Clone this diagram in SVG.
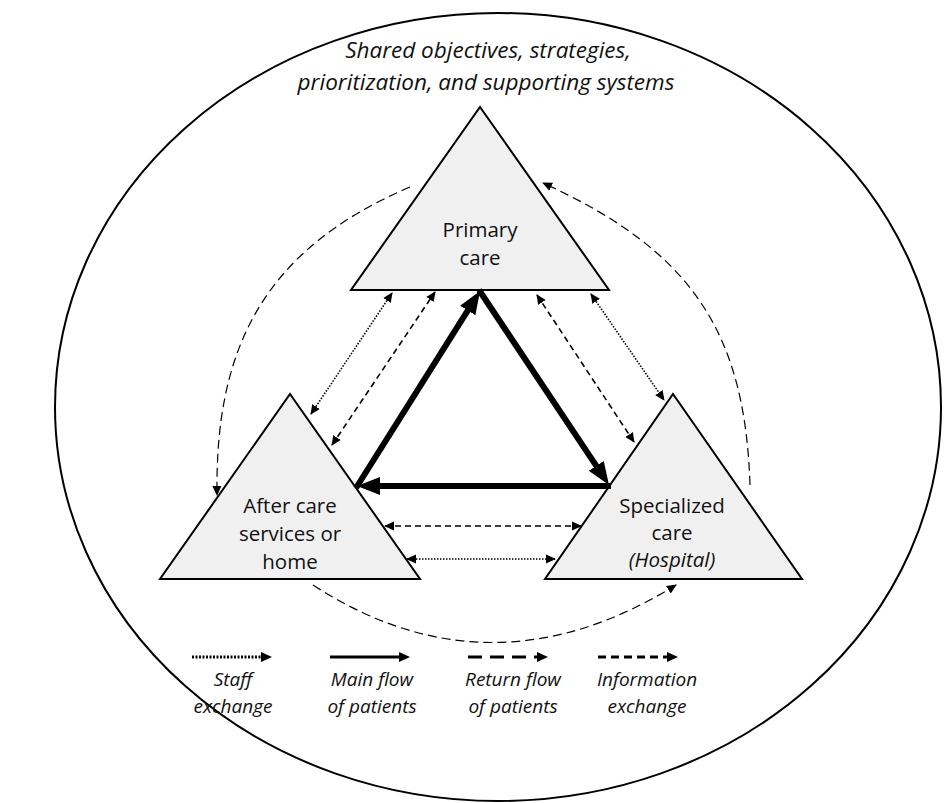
<svg xmlns="http://www.w3.org/2000/svg" width="948" height="803" viewBox="0 0 948 803">
  <style>
    .bg { fill: #ffffff; }
    .frame { fill: none; stroke: #000; stroke-width: 2; }
    .tri { fill: #f0f0f0; stroke: #000; stroke-width: 2; stroke-linejoin: miter; }
    .label { font-family: "Open Sans", Lato, "Liberation Sans", sans-serif; font-size: 20.5px; fill: #111; text-anchor: middle; }
    .leg { font-size: 19px; font-style: italic; }
    .ital { font-style: italic; }
    .title { font-family: "Open Sans", Lato, "Liberation Sans", sans-serif; font-size: 22.5px; font-style: italic; fill: #111; text-anchor: middle; }
    .main { fill: none; stroke: #000; stroke-width: 6; }
    .staff { fill: none; stroke: #000; stroke-width: 1.6; stroke-dasharray: 1.5 1.5; }
    .info { fill: none; stroke: #000; stroke-width: 1.6; stroke-dasharray: 6 4; }
    .curve { fill: none; stroke: #000; stroke-width: 1.2; stroke-dasharray: 9 5; }
  </style>
  <defs>
    <marker id="head" markerUnits="userSpaceOnUse" viewBox="0 -5 10 10" markerWidth="10" markerHeight="10" refX="9" refY="0" orient="auto-start-reverse">
      <path d="M0,-4.5 L10,0 L0,4.5 z" fill="#000"/>
    </marker>
    <marker id="bigHead" markerUnits="userSpaceOnUse" viewBox="0 -10 24 20" markerWidth="24" markerHeight="20" refX="1" refY="0" orient="auto">
      <path d="M0,-9 L23,0 L0,9 z" fill="#000"/>
    </marker>
    <marker id="legHead" markerUnits="userSpaceOnUse" viewBox="0 -6 12 12" markerWidth="12" markerHeight="12" refX="1" refY="0" orient="auto">
      <path d="M0,-5 L11,0 L0,5 z" fill="#000"/>
    </marker>
  </defs>

  <rect class="bg" x="0" y="0" width="948" height="803"/>

  <!-- Enclosing ellipse with shared objectives -->
  <g id="frame">
    <ellipse class="frame" cx="498" cy="407" rx="443" ry="394"/>
    <text class="title" x="488" y="58">Shared objectives, strategies,</text>
    <text class="title" x="486" y="90">prioritization, and supporting systems</text>
  </g>

  <!-- Nodes -->
  <g id="primary-care">
    <polygon class="tri" points="480,107 609,290 351,290"/>
    <text class="label" x="480" y="237">Primary</text>
    <text class="label" x="480" y="265">care</text>
  </g>
  <g id="after-care">
    <polygon class="tri" points="290,394 420,579 160,579"/>
    <text class="label" x="290" y="513">After care</text>
    <text class="label" x="290" y="541">services or</text>
    <text class="label" x="290" y="569">home</text>
  </g>
  <g id="specialized-care">
    <polygon class="tri" points="673,394 802,579 545,579"/>
    <text class="label" x="672" y="513">Specialized</text>
    <text class="label" x="672" y="540">care</text>
    <text class="label ital" x="672" y="567">(Hospital)</text>
  </g>

  <!-- Connectors -->
  <g id="connectors">
    <!-- main flow of patients -->
    <line class="main" x1="356" y1="488" x2="468.3" y2="309.6" marker-end="url(#bigHead)"/>
    <line class="main" x1="479" y1="290" x2="596.8" y2="466.7" marker-end="url(#bigHead)"/>
    <line class="main" x1="611" y1="486" x2="379" y2="486" marker-end="url(#bigHead)"/>

    <!-- staff exchange -->
    <line class="staff" x1="311" y1="414" x2="392" y2="293" marker-start="url(#head)" marker-end="url(#head)"/>
    <line class="staff" x1="591" y1="294" x2="664" y2="400" marker-start="url(#head)" marker-end="url(#head)"/>
    <line class="staff" x1="407" y1="559" x2="555" y2="559" marker-start="url(#head)" marker-end="url(#head)"/>

    <!-- information exchange -->
    <line class="info" x1="332" y1="445" x2="435" y2="292" marker-start="url(#head)" marker-end="url(#head)"/>
    <line class="info" x1="537" y1="295" x2="634" y2="442" marker-start="url(#head)" marker-end="url(#head)"/>
    <line class="info" x1="385" y1="526" x2="581" y2="526" marker-start="url(#head)" marker-end="url(#head)"/>

    <!-- return flow of patients -->
    <path class="curve" d="M410,187 C262,250 215,350 217,495" marker-end="url(#head)"/>
    <path class="curve" d="M750,485 C745,330 690,250 543,183" marker-end="url(#head)"/>
    <path class="curve" d="M313,585 Q490,700 676,585" marker-end="url(#head)"/>
  </g>

  <!-- Legend -->
  <g id="legend">
    <line x1="192" y1="657" x2="262" y2="657" stroke="#000" stroke-width="3" stroke-dasharray="2 1.5" marker-end="url(#legHead)"/>
    <text class="label leg" x="233" y="686">Staff</text>
    <text class="label leg" x="233" y="713">exchange</text>

    <line x1="330" y1="657" x2="400" y2="657" stroke="#000" stroke-width="3" marker-end="url(#legHead)"/>
    <text class="label leg" x="372" y="686">Main flow</text>
    <text class="label leg" x="372" y="713">of patients</text>

    <line x1="468" y1="657" x2="538" y2="657" stroke="#000" stroke-width="3" stroke-dasharray="14 8" marker-end="url(#legHead)"/>
    <text class="label leg" x="513" y="686">Return flow</text>
    <text class="label leg" x="513" y="713">of patients</text>

    <line x1="598" y1="657" x2="668" y2="657" stroke="#000" stroke-width="3" stroke-dasharray="8 5" marker-end="url(#legHead)"/>
    <text class="label leg" x="647" y="686">Information</text>
    <text class="label leg" x="647" y="713">exchange</text>
  </g>
</svg>
